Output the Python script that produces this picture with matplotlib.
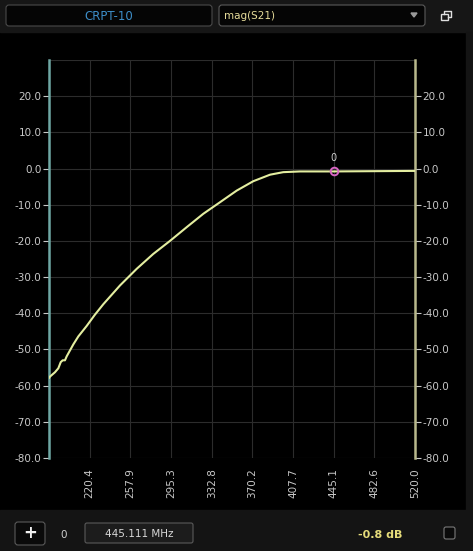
import matplotlib
matplotlib.use("Agg")
import matplotlib.pyplot as plt
from matplotlib.patches import FancyBboxPatch, Rectangle

# ---- data ----
freq_mhz = [183.0, 183.9, 188.5, 191.6, 193.8, 195.6, 197.7, 199.3, 205.4, 210.0,
            217.7, 225.0, 233.0, 248.4, 263.8, 279.0, 294.4, 309.8, 325.1, 340.5,
            355.8, 371.1, 386.5, 398.7, 414.1, 430.0, 445.1, 470.0, 495.0, 520.0]
s21_db = [-57.9, -57.5, -56.3, -55.2, -53.5, -53.0, -53.0, -51.9, -48.6, -46.4,
          -43.5, -40.5, -37.5, -32.3, -27.7, -23.6, -20.0, -16.2, -12.5, -9.3,
          -6.1, -3.5, -1.7, -1.0, -0.8, -0.8, -0.8, -0.75, -0.7, -0.65]
xtick_vals = [220.4, 257.9, 295.3, 332.8, 370.2, 407.7, 445.1, 482.6, 520.0]
ytick_vals = [-80, -70, -60, -50, -40, -30, -20, -10, 0, 10, 20]
marker_freq = 445.1
marker_db = -0.8
marker_id = "0"
trace_name = "CRPT-10"
param_name = "mag(S21)"
marker_freq_text = "445.111 MHz"
marker_val_text = "-0.8 dB"

W, H = 473, 551
fig = plt.figure(figsize=(W / 100, H / 100), dpi=100)
fig.patch.set_facecolor("#000000")

def fx(px):
    return px / W

def fy(py):
    return 1 - py / H

# background bars
bg = fig.add_axes([0, 0, 1, 1])
bg.set_xlim(0, W)
bg.set_ylim(H, 0)
bg.axis("off")
bg.add_patch(Rectangle((0, 0), W, 32, color="#161616", zorder=0))
bg.add_patch(Rectangle((0, 510), W, 41, color="#141414", zorder=0))
bg.add_patch(Rectangle((466, 32), 7, 478, color="#141414", zorder=0))
# top boxes
bg.add_patch(FancyBboxPatch((6, 5), 206, 21, boxstyle="round,pad=0,rounding_size=3",
                            fc="#050505", ec="#4a4a4a", lw=0.8))
bg.text(109, 16, trace_name, color="#3d8ec9", fontsize=8.5, ha="center", va="center",
        family="DejaVu Sans")
bg.add_patch(FancyBboxPatch((219, 5), 206, 21, boxstyle="round,pad=0,rounding_size=3",
                            fc="#050505", ec="#5a5a5a", lw=0.8))
bg.text(224, 16, param_name, color="#e6dc9a", fontsize=7.5, ha="left", va="center",
        family="DejaVu Sans")
bg.fill([411, 417, 414], [13, 13, 17], color="#9a9a9a")
bg.add_patch(Rectangle((441, 14), 7, 6, fc="none", ec="#e0e0e0", lw=1.0))
bg.plot([443.5, 443.5, 451, 451, 448], [14, 11, 11, 17, 17], color="#e0e0e0", lw=1.0)
# bottom controls
bg.add_patch(FancyBboxPatch((15, 522), 30, 23, boxstyle="round,pad=0,rounding_size=3",
                            fc="#0a0a0a", ec="#5a5a5a", lw=0.8))
bg.text(30, 533.5, "+", color="#f0f0f0", fontsize=12, ha="center", va="center",
        fontweight="bold")
bg.text(64, 535, marker_id, color="#d0d0d0", fontsize=7.5, ha="center", va="center")
bg.add_patch(FancyBboxPatch((85, 523), 108, 20, boxstyle="round,pad=0,rounding_size=2",
                            fc="#1c1c1c", ec="#5a5a5a", lw=0.8))
bg.text(139, 534, marker_freq_text, color="#d8d8d8", fontsize=7.5, ha="center",
        va="center")
bg.text(380, 535, marker_val_text, color="#e6dc7a", fontsize=8, ha="center",
        va="center", fontweight="bold")
bg.add_patch(FancyBboxPatch((444, 527), 11, 12, boxstyle="round,pad=0,rounding_size=2",
                            fc="#0a0a0a", ec="#7a7a7a", lw=0.8))

# ---- main chart ----
L, R, T, B = 49, 415, 60, 458
ax = fig.add_axes([fx(L), fy(B), (R - L) / W, (B - T) / H])
ax.set_facecolor("#000000")
ax.set_xlim(183.0, 520.0)
ax.set_ylim(-80, 30)

grid_c = "#2c2c2c"
for xv in xtick_vals:
    ax.axvline(xv, color=grid_c, lw=0.8, zorder=1)
for yv in ytick_vals + [30]:
    ax.axhline(yv, color=grid_c, lw=0.8, zorder=1)

ax.plot(freq_mhz, s21_db, color="#e4eea0", lw=1.5, zorder=3, solid_capstyle="round",
        solid_joinstyle="round")
ax.plot([marker_freq], [marker_db], marker="o", ms=5.5, mfc="none", mec="#d866c4",
        mew=1.4, zorder=4)
ax.annotate(marker_id, (marker_freq, marker_db), xytext=(0, 6),
            textcoords="offset points", ha="center", va="bottom",
            color="#d0d0d0", fontsize=7)

for s in ["top", "bottom"]:
    ax.spines[s].set_visible(False)
ax.spines["left"].set_color("#6fa8a4")
ax.spines["left"].set_linewidth(1.8)
ax.spines["right"].set_color("#b8b88c")
ax.spines["right"].set_linewidth(1.8)

ax.set_yticks(ytick_vals)
ax.set_yticklabels([f"{v:.1f}" for v in ytick_vals])
ax.tick_params(axis="y", which="both", left=True, right=True, labelleft=True,
               labelright=True, colors="#c8c8c8", labelsize=7.5, length=4,
               width=0.8, pad=1.5)
ax.set_xticks(xtick_vals)
ax.set_xticklabels([f"{v:.1f}" for v in xtick_vals], rotation=90)
ax.tick_params(axis="x", bottom=False, colors="#c8c8c8", labelsize=7.5, pad=4)
for lab in ax.get_xticklabels():
    lab.set_color("#c8c8c8")

fig.savefig("out.png", dpi=100, facecolor=fig.get_facecolor())
